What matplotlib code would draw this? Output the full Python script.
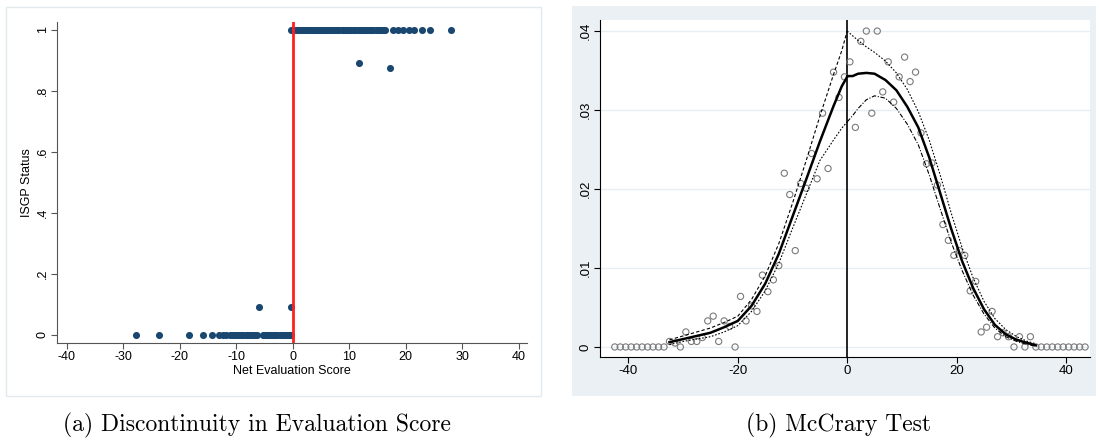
import matplotlib
matplotlib.use("Agg")
import matplotlib.pyplot as plt
from matplotlib.patches import Rectangle

plt.rcParams['font.family'] = ['Liberation Sans', 'DejaVu Sans']
plt.rcParams['axes.unicode_minus'] = False

# ---- panel (a): ISGP status vs net evaluation score ----
zero_x = [-27.8, -23.7, -18.4, -15.8, -14.3, -13.0, -12.3, -11.7, -11.0, -10.7,
          -10.3, -10.0, -9.7, -9.3, -9.0, -8.7, -8.3, -8.0, -7.7, -7.3, -7.0,
          -6.7, -6.3, -5.3, -5.0, -4.7, -4.3, -4.0, -3.7, -3.3, -3.0, -2.7,
          -2.3, -2.0, -1.7, -1.3, -1.0, -0.7, -0.3]
one_x = [-0.3, 0.0, 0.3, 0.7, 1.0, 1.3, 1.7, 2.0, 2.3, 2.7, 3.0, 3.3, 3.7, 4.0,
         4.3, 4.7, 5.0, 5.3, 5.7, 6.0, 6.3, 6.7, 7.0, 7.3, 7.7, 8.0, 8.3, 8.7,
         9.0, 9.3, 9.7, 10.0, 10.3, 10.7, 11.0, 11.3, 11.7, 12.0, 12.3, 12.7,
         13.0, 13.3, 13.7, 14.0, 14.3, 14.7, 15.0, 15.3, 15.7, 16.0, 16.4,
         17.7, 18.7, 19.6, 20.6, 21.5, 23.0, 24.3, 28.1]
mid_x = [-5.9, -0.3, 11.8, 17.2]
mid_y = [0.092, 0.092, 0.893, 0.875]

# ---- panel (b): McCrary density test ----
bin_x = [-42.5, -41.5, -40.5, -39.5, -38.5, -37.5, -36.5, -35.5, -34.5, -33.5,
         -32.5, -31.5, -30.5, -29.5, -28.5, -27.5, -26.5, -25.5, -24.5, -23.5,
         -22.5, -21.5, -20.5, -19.5, -18.5, -17.5, -16.5, -15.5, -14.5, -13.5,
         -12.5, -11.5, -10.5, -9.5, -8.5, -7.5, -6.5, -5.5, -4.5, -3.5, -2.5,
         -1.5, -0.5, 0.5, 1.5, 2.5, 3.5, 4.5, 5.5, 6.5, 7.5, 8.5, 9.5, 10.5,
         11.5, 12.5, 13.5, 14.5, 15.5, 16.5, 17.5, 18.5, 19.5, 20.5, 21.5,
         22.5, 23.5, 24.5, 25.5, 26.5, 27.5, 28.5, 29.5, 30.5, 31.5, 32.5,
         33.5, 34.5, 35.5, 36.5, 37.5, 38.5, 39.5, 40.5, 41.5, 42.5, 43.5]
bin_y = [0, 0, 0, 0, 0, 0, 0, 0, 0, 0,
         0.0007, 0.0005, 0.0, 0.0019, 0.0007, 0.0007, 0.0012, 0.0033, 0.0039,
         0.0007, 0.0033, 0.0026, 0.0, 0.0064, 0.0033, 0.0052, 0.0045, 0.0091,
         0.0070, 0.0085, 0.0103, 0.0220, 0.0193, 0.0122, 0.0207, 0.0201,
         0.0245, 0.0213, 0.0296, 0.0226, 0.0348, 0.0316, 0.0342,
         0.0361, 0.0278, 0.0387, 0.0400, 0.0296, 0.0400, 0.0323, 0.0361,
         0.0310, 0.0342, 0.0367, 0.0336, 0.0348, 0.0271, 0.0232, 0.0233,
         0.0205, 0.0155, 0.0135, 0.0116, 0.0122, 0.0116, 0.0071, 0.0083,
         0.0019, 0.0025, 0.0045, 0.0013, 0.0018, 0.0013, 0.0, 0.0013, 0.0,
         0.0013, 0, 0, 0, 0, 0, 0, 0, 0, 0, 0]

fit_l_x = [-32.5, -30, -27.5, -25, -22.5, -20, -17.5, -15, -12.5, -10, -7.5, -5, -2.5, -1, 0]
fit_l = [0.0006, 0.0010, 0.0014, 0.0018, 0.0025, 0.0033, 0.0052, 0.0080, 0.0118,
         0.0165, 0.0212, 0.0260, 0.0305, 0.0330, 0.0342]
hi_l = [0.0009, 0.0014, 0.0019, 0.0024, 0.0031, 0.0039, 0.0060, 0.0090, 0.0131,
        0.0182, 0.0236, 0.0292, 0.0345, 0.0375, 0.0400]
lo_l = [0.0003, 0.0007, 0.0010, 0.0013, 0.0019, 0.0027, 0.0045, 0.0071, 0.0106,
        0.0150, 0.0193, 0.0236, 0.0262, 0.0277, 0.0285]

fit_r_x = [0, 1, 2, 3.5, 5, 7, 9, 11, 13, 15, 17, 19, 21, 23, 25, 27, 29, 31, 33, 34.5]
fit_r = [0.0343, 0.0343, 0.0346, 0.0347, 0.0346, 0.0338, 0.0325, 0.0304, 0.0278,
         0.0240, 0.0195, 0.0150, 0.0109, 0.0075, 0.0048, 0.0028, 0.0016, 0.0009,
         0.0005, 0.0002]
hi_r = [0.0400, 0.0394, 0.0388, 0.0380, 0.0373, 0.0362, 0.0347, 0.0326, 0.0298,
        0.0262, 0.0218, 0.0170, 0.0126, 0.0088, 0.0058, 0.0036, 0.0022, 0.0013,
        0.0007, 0.0004]
lo_r = [0.0285, 0.0293, 0.0302, 0.0313, 0.0318, 0.0315, 0.0302, 0.0282, 0.0256,
        0.0218, 0.0175, 0.0133, 0.0097, 0.0066, 0.0042, 0.0024, 0.0013, 0.0007,
        0.0003, 0.0001]

fig = plt.figure(figsize=(10.99, 4.40), dpi=100)

# panel frames, kept behind the axes
fig.patches.append(Rectangle((6 / 1099, 1 - 396 / 440), 535 / 1099, 389 / 440,
                             transform=fig.transFigure, facecolor='white',
                             edgecolor='#e3eaee', lw=1, zorder=-10))
fig.patches.append(Rectangle((572 / 1099, 1 - 396 / 440), 524 / 1099, 390 / 440,
                             transform=fig.transFigure, facecolor='#eaf0f3',
                             edgecolor='none', zorder=-10))

navy = '#1a476f'

ax1 = fig.add_axes([57 / 1099, 1 - 343 / 440, 470 / 1099, 321 / 440])
ax1.set_facecolor('none')
ax1.scatter(zero_x, [0] * len(zero_x), s=26, color=navy, zorder=3, lw=0)
ax1.scatter(one_x, [1] * len(one_x), s=26, color=navy, zorder=3, lw=0)
ax1.scatter(mid_x, mid_y, s=26, color=navy, zorder=3, lw=0)
ax1.axvline(0, color='#ff2020', lw=2, zorder=4)
ax1.set_xlim(-41.7, 41.5)
ax1.set_ylim(-0.027, 1.026)
ax1.set_xticks([-40, -30, -20, -10, 0, 10, 20, 30, 40])
ax1.set_yticks([0, 0.2, 0.4, 0.6, 0.8, 1])
ax1.set_yticklabels(['0', '.2', '.4', '.6', '.8', '1'], rotation=90, va='center')
ax1.set_xlabel('Net Evaluation Score', fontsize=9, labelpad=1)
ax1.set_ylabel('ISGP Status', fontsize=9, labelpad=3)
for s in ['top', 'right']:
    ax1.spines[s].set_visible(False)
for s in ['left', 'bottom']:
    ax1.spines[s].set_color('#555555')
ax1.tick_params(labelsize=9, length=4, color='#555555', pad=2)

ax2 = fig.add_axes([600 / 1099, 1 - 357 / 440, 490 / 1099, 337 / 440])
ax2.set_facecolor('white')
for yv in [0, 0.01, 0.02, 0.03, 0.04]:
    ax2.axhline(yv, color='#e6eff1', lw=1, zorder=0)
ax2.axvline(0, color='black', lw=1.2, zorder=2)
ax2.scatter(bin_x, bin_y, s=20, facecolors='none', edgecolors='#7a7a7a', lw=0.8, zorder=3)
ax2.plot(fit_l_x, fit_l, color='black', lw=1.8, zorder=4)
ax2.plot(fit_l_x, hi_l, color='black', lw=0.8, ls=(0, (3, 2)), zorder=4)
ax2.plot(fit_l_x, lo_l, color='black', lw=0.8, ls=(0, (1.5, 1.5)), zorder=4)
ax2.plot(fit_r_x, fit_r, color='black', lw=1.8, zorder=4)
ax2.plot(fit_r_x, hi_r, color='black', lw=0.8, ls=(0, (1.5, 1.5)), zorder=4)
ax2.plot(fit_r_x, lo_r, color='black', lw=0.8, ls=(0, (4, 1.5, 1, 1.5)), zorder=4)
ax2.set_xlim(-45.2, 44.4)
ax2.set_ylim(-0.00127, 0.0414)
ax2.set_xticks([-40, -20, 0, 20, 40])
ax2.set_yticks([0, 0.01, 0.02, 0.03, 0.04])
ax2.set_yticklabels(['0', '.01', '.02', '.03', '.04'], rotation=90, va='center')
for s in ['top', 'right']:
    ax2.spines[s].set_visible(False)
ax2.tick_params(labelsize=9.5, length=4, pad=2)

fig.text(257 / 1099, 1 - 425 / 440, '(a) Discontinuity in Evaluation Score',
         family='cmr10', fontsize=17, ha='center', va='center')
fig.text(839 / 1099, 1 - 425 / 440, '(b) McCrary Test',
         family='cmr10', fontsize=17, ha='center', va='center')

fig.savefig('out.png', dpi=100)
